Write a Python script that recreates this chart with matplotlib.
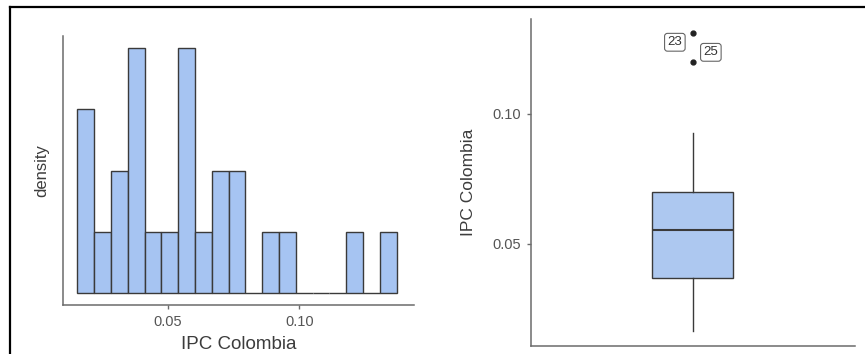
import numpy as np
import matplotlib.pyplot as plt
from matplotlib.lines import Line2D

plt.rcParams['font.family'] = ['Liberation Sans', 'DejaVu Sans']

# IPC Colombia values (row order; rows 23 and 25 are the outliers)
ipc = [0.0163, 0.0185, 0.0205, 0.0255, 0.0300, 0.0330, 0.0368, 0.0380,
       0.0392, 0.0400, 0.0450, 0.0510, 0.0552, 0.0565, 0.0580, 0.0595,
       0.0640, 0.0685, 0.0698, 0.0750, 0.0770, 0.0890, 0.1311, 0.0926,
       0.1199]
x_ticks = [0.05, 0.10]
x_ticklabels = ["0.05", "0.10"]
y_ticks = [0.05, 0.10]
y_ticklabels = ["0.05", "0.10"]

bin_start = 0.0155
bin_width = 0.0064
n_bins = 19

hist_fill = "#a6c4f2"
box_fill = "#adc8f0"
edge = "#3a3a3a"
axis_col = "#6b6b6b"
tick_col = "#555555"

W, H = 865, 354
fig = plt.figure(figsize=(W / 100, H / 100), dpi=100)

def box(l, t, r, b):
    return [l / W, 1 - b / H, (r - l) / W, (b - t) / H]

# histogram
ax1 = fig.add_axes(box(62.7, 36, 414, 305.3))
edges = bin_start + bin_width * np.arange(n_bins + 1)
ax1.hist(ipc, bins=edges, density=True, color=hist_fill,
         edgecolor=edge, linewidth=1.0)
dens_per_count = 1 / (len(ipc) * bin_width)
ax1.set_ylim(-0.2 * dens_per_count, 4.2 * dens_per_count)
ax1.set_xlim(0.0099, 0.1437)
ax1.set_xticks(x_ticks)
ax1.set_xticklabels(x_ticklabels)
ax1.set_yticks([])
ax1.set_xlabel("IPC Colombia", fontsize=13.5, color="#3c3c3c", labelpad=5)
ax1.set_ylabel("density", fontsize=12, color="#3c3c3c", labelpad=10)

# boxplot
ax2 = fig.add_axes(box(530.7, 19, 855, 345.7))
bp = ax2.boxplot(ipc, positions=[0.5], widths=0.25, patch_artist=True,
                 whis=1.5,
                 boxprops=dict(facecolor=box_fill, edgecolor=edge, linewidth=1.0),
                 medianprops=dict(color=edge, linewidth=1.5),
                 whiskerprops=dict(color=edge, linewidth=1.0),
                 capprops=dict(linewidth=0),
                 flierprops=dict(marker='o', markersize=3.5,
                                 markerfacecolor="#222222",
                                 markeredgecolor="#222222"))
ax2.set_xlim(0, 1)
ax2.set_ylim(0.0107, 0.1366)
ax2.set_xticks([])
ax2.set_yticks(y_ticks)
ax2.set_yticklabels(y_ticklabels)
ax2.set_ylabel("IPC Colombia", fontsize=12.5, color="#3c3c3c", labelpad=12)

# label outliers with their row number
vals = np.array(ipc)
q1, q3 = np.percentile(vals, [25, 75])
iqr = q3 - q1
offsets = [(-18, -9), (18, 10)]
k = 0
for i, v in enumerate(ipc):
    if v > q3 + 1.5 * iqr or v < q1 - 1.5 * iqr:
        ax2.annotate(str(i + 1), (0.5, v), xytext=offsets[k % 2],
                     textcoords="offset pixels", ha="center", va="center",
                     fontsize=9.5, color="#333333",
                     bbox=dict(boxstyle="round,pad=0.22", fc="white",
                               ec="#666666", lw=0.8))
        k += 1

for ax in (ax1, ax2):
    for s in ("top", "right"):
        ax.spines[s].set_visible(False)
    for s in ("left", "bottom"):
        ax.spines[s].set_color(axis_col)
        ax.spines[s].set_linewidth(1.1)
    ax.tick_params(length=3, width=1, color=axis_col, labelcolor=tick_col,
                   labelsize=10.5, pad=4)

# screenshot frame
fig.add_artist(Line2D([10 / W, 1], [1 - 7 / H, 1 - 7 / H], color="black", lw=1.6))
fig.add_artist(Line2D([10 / W, 10 / W], [0, 1 - 7 / H], color="black", lw=1.6))

fig.savefig("out.png", dpi=100)
